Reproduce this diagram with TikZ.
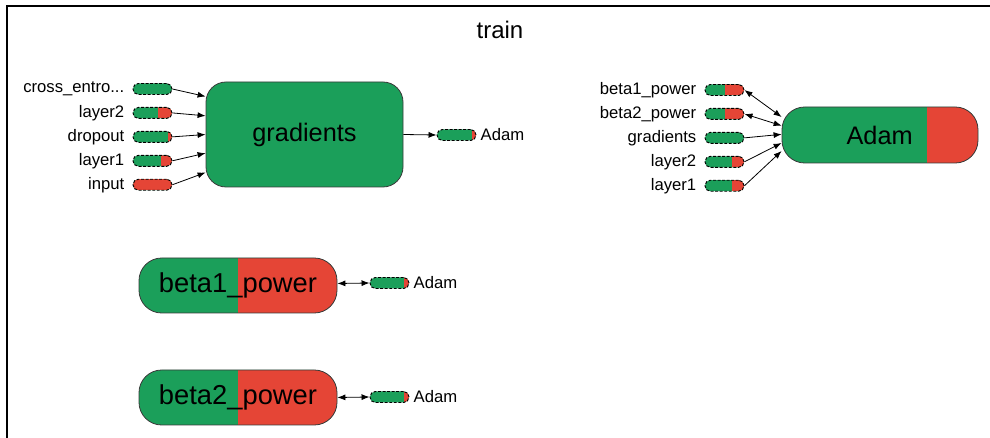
\documentclass[tikz,border=0pt]{standalone}
\usepackage{fontspec}
\setmainfont{Liberation Sans}
\usepackage{xcolor}
\usetikzlibrary{arrows.meta, positioning, calc}

\definecolor{tfgreen}{HTML}{1B9F5A}
\definecolor{tfred}{HTML}{E54536}
\definecolor{tfline}{HTML}{3A3A3A}

\begin{document}
\begin{tikzpicture}[
    x=0.75pt, y=-0.75pt,
    node distance=9pt and 5pt,
    op/.style={rectangle, draw=tfline, line width=0.6pt, fill=tfgreen, rounded corners=15pt, inner sep=0pt, font=\fontsize{19}{22}\selectfont},
    pill/.style={rectangle, draw=black, dashed, dash pattern=on 2.2pt off 1.2pt, line width=0.7pt, fill=tfgreen, rounded corners=4pt, minimum width=29.25pt, minimum height=8.25pt, inner sep=0pt},
    redpart/.style={path picture={\fill[tfred, sharp corners] ($(path picture bounding box.south west)!#1!(path picture bounding box.south east)$) rectangle (path picture bounding box.north east);}},
    lbl/.style={font=\fontsize{12.5}{14}\selectfont, inner sep=1pt},
    arr/.style={-{Latex[length=6pt, width=4.5pt]}, line width=0.6pt},
    darr/.style={{Latex[length=6pt, width=4.5pt]}-{Latex[length=6pt, width=4.5pt]}, line width=0.6pt}
]
\useasboundingbox (0,0) rectangle (990,438);
\draw[line width=1.5pt] (7,438) -- (7,6.5) -- (990,6.5);
\node[font=\fontsize{18}{20}\selectfont] (title) at (500,30) {train};

% gradients
\node[op, minimum width=147.75pt, minimum height=78.75pt] (grad) at (304.5,134.5) {gradients};
\node[pill] (pce) at (152.5,89) {};
\node[pill, redpart=0.64, below=of pce] (pl2) {};
\node[pill, redpart=0.9, below=of pl2] (pdrop) {};
\node[pill, redpart=0.72, below=of pdrop] (pl1) {};
\node[pill, redpart=0, below=of pl1] (pin) {};
\node[lbl, left=of pce] {cross\_entro...};
\node[lbl, left=of pl2] {layer2};
\node[lbl, left=of pdrop] {dropout};
\node[lbl, left=of pl1] {layer1};
\node[lbl, left=of pin] {input};
\draw[arr] (pce.east) -- ([yshift=28.5pt]grad.west);
\draw[arr] (pl2.east) -- ([yshift=14pt]grad.west);
\draw[arr] (pdrop.east) -- (grad.west);
\draw[arr] (pl1.east) -- ([yshift=-14pt]grad.west);
\draw[arr] (pin.east) -- ([yshift=-28.5pt]grad.west);
\node[pill, redpart=0.9] (pgadam) at (456.5,135) {};
\node[lbl, right=2pt of pgadam] {Adam};
\draw[arr] (grad.east) -- (pgadam.west);

% Adam
\node[op, redpart=0.74, rounded corners=17pt, minimum width=147pt, minimum height=42pt] (adam) at (880,135) {};
\node[font=\fontsize{19}{22}\selectfont, anchor=east, inner sep=0pt] (adamtxt) at (913,135) {Adam};
\node[pill, redpart=0.51] (pb1) at (724.5,90) {};
\node[pill, redpart=0.51, below=of pb1] (pb2) {};
\node[pill, below=of pb2] (pgr) {};
\node[pill, redpart=0.69, below=of pgr] (pal2) {};
\node[pill, redpart=0.69, below=of pal2] (pal1) {};
\node[lbl, left=of pb1] {beta1\_power};
\node[lbl, left=of pb2] {beta2\_power};
\node[lbl, left=of pgr] {gradients};
\node[lbl, left=of pal2] {layer2};
\node[lbl, left=of pal1] {layer1};
\draw[darr] (pb1.east) -- ([yshift=13.5pt]adam.west);
\draw[darr] (pb2.east) -- ([yshift=7pt]adam.west);
\draw[arr] (pgr.east) -- ([yshift=0.5pt]adam.west);
\draw[arr] (pal2.east) -- ([yshift=-6pt]adam.west);
\draw[arr] (pal1.east) -- ([yshift=-12pt]adam.west);

% beta1_power, beta2_power
\node[op, redpart=0.5, rounded corners=17pt, minimum width=148.5pt, minimum height=41.25pt, font=\fontsize{20.5}{23}\selectfont] (beta1) at (238,285.5) {beta1\_power};
\node[pill, redpart=0.88] (pb1adam) at (389.5,283) {};
\node[lbl, right=2pt of pb1adam] {Adam};
\draw[darr] ([yshift=1.5pt]beta1.east) -- (pb1adam.west);
\node[op, redpart=0.5, rounded corners=17pt, minimum width=148.5pt, minimum height=41.25pt, font=\fontsize{20.5}{23}\selectfont] (beta2) at (238,397.5) {beta2\_power};
\node[pill, redpart=0.88] (pb2adam) at (389.5,397) {};
\node[lbl, right=2pt of pb2adam] {Adam};
\draw[darr] (beta2.east) -- (pb2adam.west);
\end{tikzpicture}
\end{document}
